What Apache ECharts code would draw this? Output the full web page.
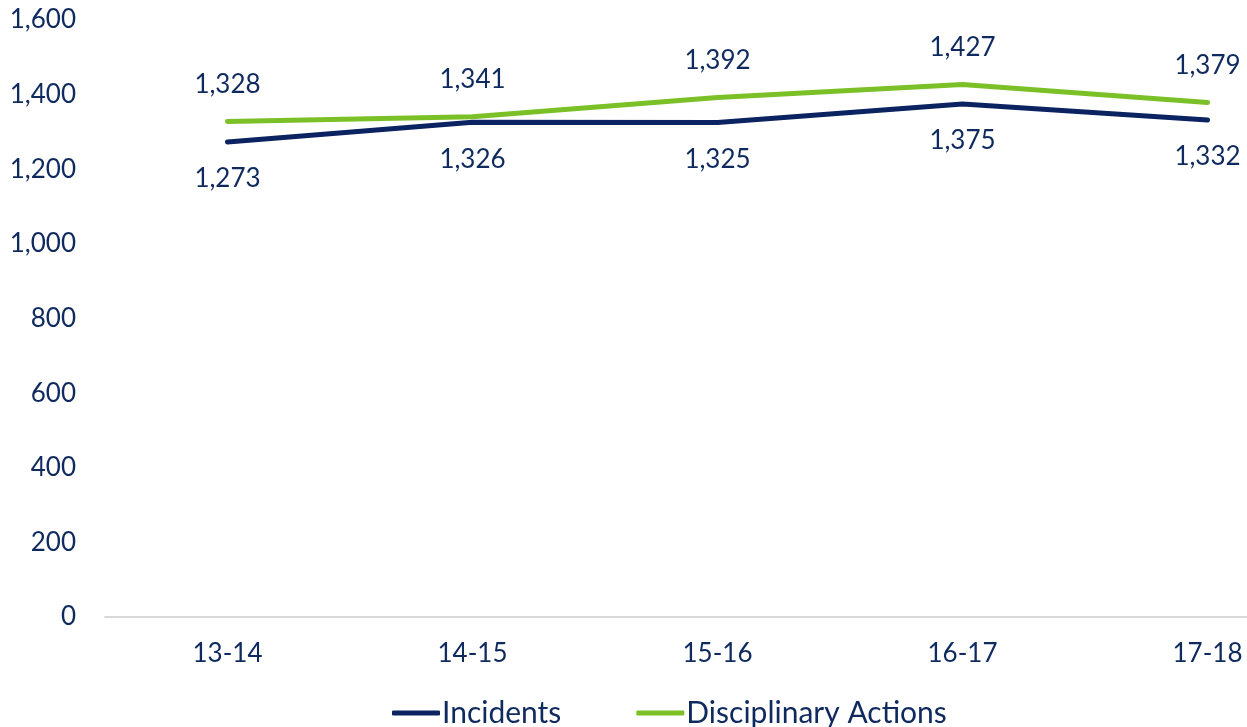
<!DOCTYPE html>
<html>
<head>
<meta charset="utf-8">
<script src="https://cdn.jsdelivr.net/npm/echarts@6/dist/echarts.min.js"></script>
<style>
  html, body { margin: 0; padding: 0; background: #ffffff; }
  #chart { width: 1247px; height: 727px; }
</style>
</head>
<body>
<div id="chart"></div>
<script>
// School years on the x axis
const years = ['13-14', '14-15', '15-16', '16-17', '17-18'];
// Yearly totals
const incidents = [1273, 1326, 1325, 1375, 1332];
const disciplinaryActions = [1328, 1341, 1392, 1427, 1379];
// Value axis range
const yMin = 0;
const yMax = 1600;
const yStep = 200;

const navy = '#0b2361';
const green = '#7bc026';
const textColor = '#0f2a5e';
const fontFamily = 'Lato, "Open Sans", sans-serif';
const fontSize = 26;

const chart = echarts.init(document.getElementById('chart'));

const fmt = v => Number(v).toLocaleString('en-US');

chart.setOption({
  animation: false,
  backgroundColor: '#ffffff',
  textStyle: { fontFamily: fontFamily, color: textColor },
  grid: { left: 105, right: -83, top: 20, bottom: 110, containLabel: false, outerBoundsMode: 'none' },
  legend: {
    top: 698,
    left: 392,
    padding: 0,
    itemWidth: 48,
    itemHeight: 5,
    itemGap: 75,
    icon: 'roundRect',
    textStyle: { fontSize: 30, color: textColor, fontFamily: fontFamily, padding: [0, 0, 0, -3] },
    data: ['Incidents', 'Disciplinary Actions']
  },
  xAxis: {
    type: 'category',
    data: years,
    boundaryGap: true,
    axisLine: { show: true, lineStyle: { color: '#d9d9d9', width: 2 } },
    axisTick: { show: false },
    axisLabel: { color: textColor, fontSize: fontSize, margin: 24, fontFamily: fontFamily }
  },
  yAxis: {
    type: 'value',
    min: yMin,
    max: yMax,
    interval: yStep,
    axisLine: { show: false },
    axisTick: { show: false },
    splitLine: { show: false },
    axisLabel: { color: textColor, fontSize: fontSize, margin: 29, fontFamily: fontFamily, formatter: fmt }
  },
  series: [
    {
      name: 'Incidents',
      type: 'line',
      data: incidents,
      symbol: 'circle',
      symbolSize: 0.01,
      showSymbol: true,
      itemStyle: { color: navy },
      lineStyle: { color: navy, width: 5, cap: 'round', join: 'round' },
      label: {
        show: true, position: 'bottom', distance: 24,
        color: textColor, fontSize: fontSize, fontFamily: fontFamily,
        formatter: p => fmt(p.value)
      },
      z: 2
    },
    {
      name: 'Disciplinary Actions',
      type: 'line',
      data: disciplinaryActions,
      symbol: 'circle',
      symbolSize: 0.01,
      showSymbol: true,
      itemStyle: { color: green },
      lineStyle: { color: green, width: 5, cap: 'round', join: 'round' },
      label: {
        show: true, position: 'top', distance: 24,
        color: textColor, fontSize: fontSize, fontFamily: fontFamily,
        formatter: p => fmt(p.value)
      },
      z: 3
    }
  ]
});
</script>
</body>
</html>
